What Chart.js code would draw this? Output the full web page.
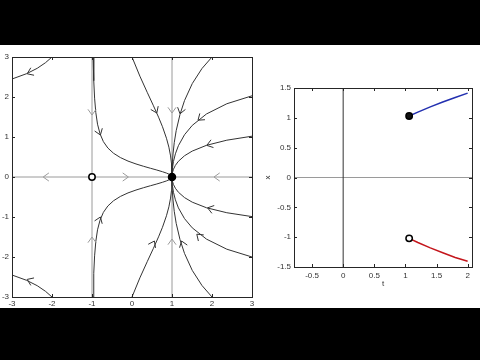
<!DOCTYPE html>
<html><head><meta charset="utf-8">
<script src="https://cdn.jsdelivr.net/npm/chart.js@4/dist/chart.umd.min.js"></script>
<style>
html,body{margin:0;padding:0;background:#000;width:480px;height:360px;overflow:hidden}
#frame{position:absolute;left:0;top:45px;width:480px;height:263px;background:#fff}
#c1{position:absolute;left:0;top:0}
#c2{position:absolute;left:262px;top:0}
</style></head>
<body>
<div id="frame"><canvas id="c1" width="260" height="263"></canvas><canvas id="c2" width="218" height="263"></canvas></div>
<script>
// ---------- left panel: phase portrait ----------
const phaseTicks = [-3, -2, -1, 0, 1, 2, 3];
const guideLeft  = [[-1, -3], [-1, 3]];
const guideRight = [[1, -3], [1, 3]];
const guideAxis  = [[-3, 0], [3, 0]];
const saddlePoint = [[-1, 0]];
const nodePoint   = [[1, 0]];

const curveTopLeft = [[-2,3],[-2.164,2.857],[-2.37,2.717],[-2.632,2.584],[-3,2.45]];
const curveTopB = [[-0.972,3],[-0.956,2.407],[-0.935,1.971],[-0.905,1.613],[-0.862,1.321],[-0.8,1.082],[-0.716,0.885],[-0.604,0.725],[-0.462,0.594],[-0.291,0.486],[-0.1,0.398],[0.1,0.326],[0.291,0.267],[0.462,0.218],[0.604,0.179],[0.762,0.132],[0.862,0.098],[0.935,0.066],[0.976,0.04],[0.995,0.018],[1,0]];
const curveTopA = [[0,3],[0.197,2.521],[0.38,2.118],[0.537,1.78],[0.664,1.496],[0.762,1.257],[0.862,0.968],[0.922,0.746],[0.964,0.527],[0.987,0.341],[0.995,0.221],[0.9993,0.092],[1,0]];
const curveTopC = [[2,3],[1.749,2.712],[1.506,2.334],[1.313,1.911],[1.2,1.565],[1.105,1.159],[1.056,0.858],[1.025,0.575],[1.009,0.349],[1.003,0.192],[1.0007,0.095],[1,0]];
const curveTopD = [[3,2.03],[2.37,1.831],[1.862,1.576],[1.506,1.29],[1.313,1.057],[1.1605,0.783],[1.085,0.58],[1.037,0.389],[1.014,0.236],[1.003,0.117],[1.0007,0.052],[1,0]];
const curveTopE = [[3,1.02],[2.37,0.92],[1.862,0.792],[1.506,0.648],[1.313,0.531],[1.1605,0.393],[1.085,0.291],[1.037,0.195],[1.014,0.118],[1.003,0.059],[1.0007,0.026],[1,0]];

const curveBotLeft = [[-2,-3],[-2.164,-2.857],[-2.37,-2.717],[-2.632,-2.584],[-3,-2.45]];
const curveBotB = [[-0.972,-3],[-0.956,-2.407],[-0.935,-1.971],[-0.905,-1.613],[-0.862,-1.321],[-0.8,-1.082],[-0.716,-0.885],[-0.604,-0.725],[-0.462,-0.594],[-0.291,-0.486],[-0.1,-0.398],[0.1,-0.326],[0.291,-0.267],[0.462,-0.218],[0.604,-0.179],[0.762,-0.132],[0.862,-0.098],[0.935,-0.066],[0.976,-0.04],[0.995,-0.018],[1,0]];
const curveBotA = [[0,-3],[0.197,-2.521],[0.38,-2.118],[0.537,-1.78],[0.664,-1.496],[0.762,-1.257],[0.862,-0.968],[0.922,-0.746],[0.964,-0.527],[0.987,-0.341],[0.995,-0.221],[0.9993,-0.092],[1,0]];
const curveBotC = [[2,-3],[1.749,-2.712],[1.506,-2.334],[1.313,-1.911],[1.2,-1.565],[1.105,-1.159],[1.056,-0.858],[1.025,-0.575],[1.009,-0.349],[1.003,-0.192],[1.0007,-0.095],[1,0]];
const curveBotD = [[3,-2.0],[2.37,-1.805],[1.862,-1.553],[1.506,-1.271],[1.313,-1.041],[1.1605,-0.772],[1.085,-0.571],[1.037,-0.383],[1.014,-0.232],[1.003,-0.115],[1.0007,-0.051],[1,0]];
const curveBotE = [[3,-0.99],[2.37,-0.893],[1.862,-0.769],[1.506,-0.629],[1.313,-0.515],[1.1605,-0.381],[1.085,-0.282],[1.037,-0.189],[1.014,-0.115],[1.003,-0.057],[1.0007,-0.025],[1,0]];

// arrows: [x, y, direction dx, direction dy]
const curveArrows = [
  [-2.62,2.58,-5.9,-2.58],[-0.79,1.05,0.376,-1.05],[0.62,1.6,0.62,-1.39],[1.2,1.58,-0.44,-1.58],[1.65,1.42,-1.72,-1.42],[1.87,0.79,-2.5,-0.79],
  [-2.62,-2.56,-5.9,2.56],[-0.79,-1.0,0.376,1.0],[0.56,-1.6,0.69,1.39],[1.24,-1.6,-0.54,1.6],[1.62,-1.43,-1.62,1.43],[1.89,-0.77,-2.57,0.77]
];
const guideArrows = [
  [-1,1.55,0,-1],[-1,-1.5,0,1],[1,1.6,0,-1],[1,-1.55,0,1],
  [-2.22,0,-1,0],[-0.09,0,1,0],[2.05,0,-1,0]
];

// ---------- right panel: solutions x(t) ----------
const tTicks = [-0.5, 0, 0.5, 1, 1.5, 2];
const xTicks = [-1.5, -1, -0.5, 0, 0.5, 1, 1.5];
const solT   = [1.06, 1.2, 1.4, 1.6, 1.8, 2.0];
const upperX = [1.03, 1.095, 1.183, 1.265, 1.342, 1.414];
const lowerX = [-1.02, -1.09, -1.18, -1.262, -1.34, -1.405];
const tAxisLine = [[0, -1.5], [0, 1.5]];
const xAxisLine = [[-0.79, 0], [2.07, 0]];

const FONT = {family: "'Liberation Sans', Arial, sans-serif", size: 8};
const pts = a => a.map(([x, y]) => ({x, y}));

function chevron(ctx, px, py, ang, color) {
  const L = 7, a = 0.62;
  ctx.save();
  ctx.strokeStyle = color; ctx.lineWidth = 1;
  ctx.beginPath();
  ctx.moveTo(px - L * Math.cos(ang - a), py - L * Math.sin(ang - a));
  ctx.lineTo(px, py);
  ctx.lineTo(px - L * Math.cos(ang + a), py - L * Math.sin(ang + a));
  ctx.stroke();
  ctx.restore();
}

const boxPlugin = {
  id: 'box',
  afterDatasetsDraw(chart) {
    const {ctx, chartArea: ca, scales: {x, y}} = chart;
    ctx.save();
    ctx.strokeStyle = '#262626'; ctx.lineWidth = 1;
    ctx.strokeRect(Math.round(ca.left) + 0.5, Math.round(ca.top) + 0.5, Math.round(ca.right - ca.left), Math.round(ca.bottom - ca.top));
    ctx.beginPath();
    x.ticks.forEach(t => { const p = Math.round(x.getPixelForValue(t.value)) + 0.5;
      ctx.moveTo(p, ca.bottom); ctx.lineTo(p, ca.bottom - 3); ctx.moveTo(p, ca.top); ctx.lineTo(p, ca.top + 3); });
    y.ticks.forEach(t => { const p = Math.round(y.getPixelForValue(t.value)) + 0.5;
      ctx.moveTo(ca.left, p); ctx.lineTo(ca.left + 3, p); ctx.moveTo(ca.right, p); ctx.lineTo(ca.right - 3, p); });
    ctx.stroke();
    ctx.restore();
  }
};

const arrowPlugin = {
  id: 'arrows',
  afterDatasetsDraw(chart) {
    const {ctx, scales: {x, y}} = chart;
    const draw = (list, color) => list.forEach(([ax, ay, dx, dy]) => {
      const px = x.getPixelForValue(ax), py = y.getPixelForValue(ay);
      const qx = x.getPixelForValue(ax + dx * 0.01), qy = y.getPixelForValue(ay + dy * 0.01);
      chevron(ctx, px, py, Math.atan2(qy - py, qx - px), color);
    });
    draw(guideArrows, '#9a9a9a');
    draw(curveArrows, '#333');
  }
};

function line(data, color, width) {
  return {data: pts(data), showLine: true, borderColor: color, borderWidth: width, pointRadius: 0, fill: false, tension: 0};
}
function marker(data, fill, r) {
  return {data: pts(data), showLine: false, pointRadius: r, pointBackgroundColor: fill, pointBorderColor: '#000', pointBorderWidth: 1.5};
}

new Chart(document.getElementById('c1'), {
  type: 'scatter',
  data: {datasets: [
    marker(saddlePoint, '#fff', 3.2),
    marker(nodePoint, '#000', 3.5),
    ...[curveTopLeft, curveTopB, curveTopA, curveTopC, curveTopD, curveTopE,
        curveBotLeft, curveBotB, curveBotA, curveBotC, curveBotD, curveBotE].map(c => line(c, '#333', 1)),
    line(guideLeft, '#9a9a9a', 1), line(guideRight, '#9a9a9a', 1), line(guideAxis, '#9a9a9a', 1)
  ]},
  options: {
    responsive: false, animation: false, devicePixelRatio: 1,
    layout: {padding: {left: 0, right: 8, top: 12, bottom: 0}},
    plugins: {legend: {display: false}, tooltip: {enabled: false}},
    scales: {
      x: {type: 'linear', min: -3, max: 3,
          afterBuildTicks: s => { s.ticks = phaseTicks.map(v => ({value: v})); },
          afterFit: s => { s.height = 11; },
          grid: {display: false, drawTicks: false}, border: {display: false},
          ticks: {font: FONT, color: '#333', padding: 2, maxRotation: 0, autoSkip: false, callback: v => String(v)}},
      y: {type: 'linear', min: -3, max: 3,
          afterBuildTicks: s => { s.ticks = phaseTicks.map(v => ({value: v})); },
          afterFit: s => { s.width = 12; },
          grid: {display: false, drawTicks: false}, border: {display: false},
          ticks: {font: FONT, color: '#333', padding: 3, autoSkip: false, callback: v => String(v)}}
    }
  },
  plugins: [boxPlugin, arrowPlugin]
});

new Chart(document.getElementById('c2'), {
  type: 'scatter',
  data: {datasets: [
    marker([[solT[0], upperX[0]]], '#111', 3.2),
    marker([[solT[0], lowerX[0]]], '#fff', 3.2),
    {data: solT.map((t, i) => ({x: t, y: upperX[i]})), showLine: true, borderColor: '#2330b0', borderWidth: 1.5, pointRadius: 0},
    {data: solT.map((t, i) => ({x: t, y: lowerX[i]})), showLine: true, borderColor: '#c4161c', borderWidth: 1.5, pointRadius: 0},
    line(tAxisLine, '#333', 1),
    line(xAxisLine, '#9a9a9a', 1)
  ]},
  options: {
    responsive: false, animation: false, devicePixelRatio: 1,
    layout: {padding: {left: 0, right: 8, top: 43, bottom: 0}},
    plugins: {legend: {display: false}, tooltip: {enabled: false}},
    scales: {
      x: {type: 'linear', min: -0.79, max: 2.07,
          afterBuildTicks: s => { s.ticks = tTicks.map(v => ({value: v})); },
          afterFit: s => { s.height = 41; },
          grid: {display: false, drawTicks: false}, border: {display: false},
          title: {display: true, text: 't', font: FONT, color: '#333', padding: {top: 0, bottom: 19}},
          ticks: {font: FONT, color: '#333', padding: 4, maxRotation: 0, autoSkip: false, callback: v => String(v)}},
      y: {type: 'linear', min: -1.5, max: 1.5,
          afterBuildTicks: s => { s.ticks = xTicks.map(v => ({value: v})); },
          afterFit: s => { s.width = 32; },
          grid: {display: false, drawTicks: false}, border: {display: false},
          title: {display: true, text: 'x', font: FONT, color: '#333', padding: {top: 1, bottom: 0}},
          ticks: {font: FONT, color: '#333', padding: 3, autoSkip: false, callback: v => String(v)}}
    }
  },
  plugins: [boxPlugin]
});
</script>
</body></html>
